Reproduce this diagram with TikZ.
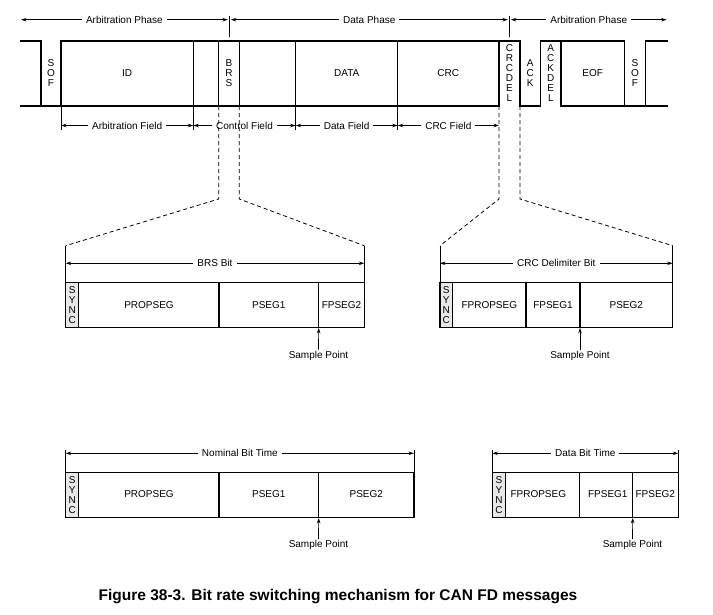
\documentclass[tikz,border=0pt]{standalone}
\usepackage{fontspec}
\setmainfont{Liberation Sans}
\usetikzlibrary{arrows.meta}
\definecolor{SyncGray}{RGB}{232,232,232}

\begin{document}
\begin{tikzpicture}[x=1pt,y=-1pt,>={Stealth[length=5.5pt,width=3.5pt]},
  every node/.style={font=\fontsize{10}{10}\selectfont, inner sep=1pt},
  wave/.style={line width=1.2pt, line cap=rect},
  seg/.style={line width=1.1pt},
  dim/.style={line width=0.7pt},
  lbl/.style={midway, fill=white, inner xsep=4pt},
  zoomline/.style={line width=0.8pt, dash pattern=on 4pt off 3pt}]
\useasboundingbox (0,0) rectangle (713,614);

% frame waveform
\draw[wave] (21,41) -- (41,41);
\draw[wave] (61,41) -- (520,41);
\draw[wave] (540.7,41) -- (624.3,41);
\draw[wave] (645.7,41) -- (667,41);
\draw[wave] (21,106) -- (499,106);
\draw[wave] (520,106) -- (540.7,106);
\draw[wave] (561,106) -- (667,106);
\foreach \x in {41,61,193.3,218.7,239.3,295.7,397.7,499,520,540.7,561,624.3,645.7}
  \draw[wave] (\x,41) -- (\x,106);

\node[align=center] (sof1) at (51,73.5) {S\\O\\F};
\node (id) at (127,73.5) {ID};
\node[align=center] (brs) at (229,73.5) {B\\R\\S};
\node (data) at (346.7,73.5) {DATA};
\node (crc) at (448.3,73.5) {CRC};
\node[align=center] (crcdel) at (509.5,73.5) {C\\R\\C\\D\\E\\L};
\node[align=center] (ack) at (530.3,73.5) {A\\C\\K};
\node[align=center] (ackdel) at (550.8,73.5) {A\\C\\K\\D\\E\\L};
\node (eof) at (592.7,73.5) {EOF};
\node[align=center] (sof2) at (635,73.5) {S\\O\\F};

% phases
\coordinate (ph0) at (21,19.7);
\coordinate (ph1) at (229.3,19.7);
\coordinate (ph2) at (509.3,19.7);
\coordinate (ph3) at (666.7,19.7);
\draw[dim] (229.3,16) -- (229.3,37);
\draw[dim] (509.3,16) -- (509.3,37);
\draw[dim,<->] (ph0) -- ([xshift=-1.5pt]ph1) node[lbl] (arbph1) {Arbitration Phase};
\draw[dim,<->] ([xshift=1.5pt]ph1) -- ([xshift=-1.5pt]ph2) node[lbl] (dataph) {Data Phase};
\draw[dim,<->] ([xshift=1.5pt]ph2) -- (ph3) node[lbl] (arbph2) {Arbitration Phase};

% fields
\foreach \x in {61,193.3,295.7,397.7}
  \draw[dim] (\x,106) -- (\x,130);
\draw[dim,<->] (61,125.5) -- (193.3,125.5) node[lbl] (arbf) {Arbitration Field};
\draw[dim,<->] (193.3,125.5) -- (295.7,125.5) node[lbl] (ctrlf) {Control Field};
\draw[dim,<->] (295.7,125.5) -- (397.7,125.5) node[lbl] (dataf) {Data Field};
\draw[dim,<->] (397.7,125.5) -- (499,125.5) node[lbl] (crcf) {CRC Field};

% zoom lines
\draw[zoomline] (218.7,106) -- (218.7,199) -- (65.7,245.7);
\draw[zoomline] (239.3,106) -- (239.3,199) -- (364.3,245.7);
\draw[zoomline] (499,106) -- (499,199) -- (440,245.7);
\draw[zoomline] (520,106) -- (520,199) -- (672.7,245.7);

% BRS bit
\draw[dim] (65.7,245.7) -- (65.7,282.7);
\draw[dim] (364.3,245.7) -- (364.3,282.7);
\draw[dim,<->] (65.7,263.3) -- (364.3,263.3) node[lbl] (brsbit) {BRS Bit};
\fill[SyncGray] (65.7,282.7) rectangle (78.7,327.3);
\draw[seg] (65.7,282.7) rectangle (364.3,327.3);
\foreach \x in {78.7,219,318.7}
  \draw[seg] (\x,282.7) -- (\x,327.3);
\node[align=center] (sync1) at (72.2,305) {S\\Y\\N\\C};
\node (prop1) at (149,305) {PROPSEG};
\node (pseg11) at (268.8,305) {PSEG1};
\node (fpseg21) at (341.5,305) {FPSEG2};
\node (sp1) at (318.5,355.5) {Sample Point};
\draw[dim,->] (sp1.north) -- (318.7,327.9);

% CRC delimiter bit
\draw[dim] (440,245.7) -- (440,282.7);
\draw[dim] (672.7,245.7) -- (672.7,282.7);
\draw[dim,<->] (440,263.3) -- (672.7,263.3) node[lbl] (crcbit) {CRC Delimiter Bit};
\fill[SyncGray] (440,282.7) rectangle (452.7,327.3);
\draw[seg] (440,282.7) rectangle (672.7,327.3);
\foreach \x in {452.7,526,580}
  \draw[seg] (\x,282.7) -- (\x,327.3);
\node[align=center] (sync2) at (446.3,305) {S\\Y\\N\\C};
\node (fprop2) at (489.3,305) {FPROPSEG};
\node (fpseg12) at (553,305) {FPSEG1};
\node (pseg22) at (626.3,305) {PSEG2};
\node (sp2) at (580,355.5) {Sample Point};
\draw[dim,->] (sp2.north) -- (580,327.9);

% nominal bit time
\draw[dim] (65.7,450) -- (65.7,472.7);
\draw[dim] (414,450) -- (414,472.7);
\draw[dim,<->] (65.7,453.3) -- (414,453.3) node[lbl] (nombit) {Nominal Bit Time};
\fill[SyncGray] (65.7,472.7) rectangle (78.7,517.3);
\draw[seg] (65.7,472.7) rectangle (414,517.3);
\foreach \x in {78.7,219,318.7}
  \draw[seg] (\x,472.7) -- (\x,517.3);
\node[align=center] (sync3) at (72.2,495) {S\\Y\\N\\C};
\node (prop3) at (149,494.3) {PROPSEG};
\node (pseg13) at (268.8,494.3) {PSEG1};
\node (pseg23) at (366.3,494.3) {PSEG2};
\node (sp3) at (318.5,545) {Sample Point};
\draw[dim,->] (sp3.north) -- (318.7,517.9);

% data bit time
\draw[dim] (492.3,450) -- (492.3,472.7);
\draw[dim] (678.3,450) -- (678.3,472.7);
\draw[dim,<->] (492.3,453.3) -- (678.3,453.3) node[lbl] (databit) {Data Bit Time};
\fill[SyncGray] (492.3,472.7) rectangle (505.7,517.3);
\draw[seg] (492.3,472.7) rectangle (678.3,517.3);
\foreach \x in {505.7,579.3,632.7}
  \draw[seg] (\x,472.7) -- (\x,517.3);
\node[align=center] (sync4) at (499,495) {S\\Y\\N\\C};
\node (fprop4) at (538.3,494.3) {FPROPSEG};
\node (fpseg14) at (607.8,494.3) {FPSEG1};
\node (fpseg24) at (655.3,494.3) {FPSEG2};
\node (sp4) at (632.5,545) {Sample Point};
\draw[dim,->] (sp4.north) -- (632.7,517.9);

\node[font=\fontsize{15.5}{17}\bfseries\selectfont] (caption) at (338,597) {Figure 38-3. Bit rate switching mechanism for CAN FD messages};
\end{tikzpicture}
\end{document}
